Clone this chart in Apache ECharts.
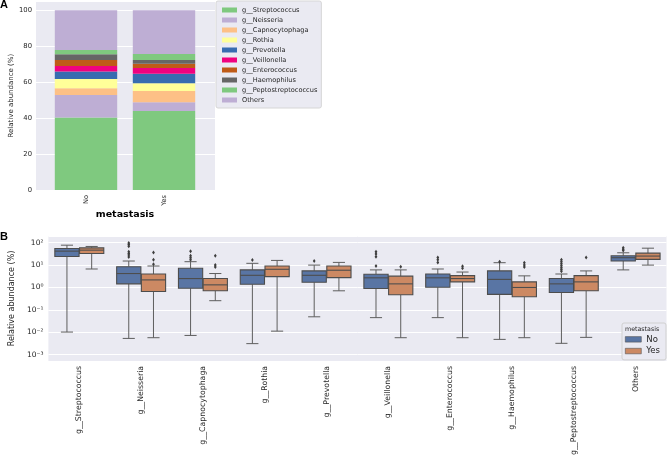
<!DOCTYPE html>
<html><head><meta charset="utf-8">
<script src="https://cdn.jsdelivr.net/npm/echarts@6/dist/echarts.min.js"></script>
<style>html,body{margin:0;padding:0;background:#fff}#c{width:668px;height:458px}</style>
</head><body><div id="c"></div>
<script>
// ---------- data ----------
const genera = ['g__Streptococcus','g__Neisseria','g__Capnocytophaga','g__Rothia','g__Prevotella','g__Veillonella','g__Enterococcus','g__Haemophilus','g__Peptostreptococcus','Others'];
const groups = ['No','Yes'];
// panel A: mean relative abundance (%)
const meanNo  = [40.4, 12.5, 3.7, 5.2, 4.2, 3.0, 3.4, 3.1, 2.4, 22.1];
const meanYes = [44.0,  4.8, 6.3, 4.3, 5.3, 3.2, 2.4, 2.1, 3.3, 24.3];
// panel B: [min, q1, median, q3, max] (%)
const boxNo = [
  [0.0102, 24.4, 42, 55.2, 77.6],
  [0.0053, 1.45, 4.2, 8.5, 15.2],
  [0.0072, 0.93, 2.5, 7.2, 14.2],
  [0.0031, 1.4, 3.5, 6.1, 12],
  [0.049, 1.72, 3.5, 5.5, 10],
  [0.045, 0.9, 2.7, 3.9, 6.1],
  [0.045, 1.03, 2.7, 4.0, 6.7],
  [0.0048, 0.49, 2.3, 5.5, 12.8],
  [0.0032, 0.6, 1.45, 2.5, 4.0],
  [6.1, 15.2, 21.4, 26, 35.5]
];
const boxYes = [
  [6.7, 33, 46.6, 59, 68],
  [0.0057, 0.665, 2.18, 4.0, 9.1],
  [0.257, 0.71, 1.31, 2.5, 4.2],
  [0.0112, 3.07, 6.5, 9.1, 16.2],
  [0.71, 2.77, 5.9, 9.1, 13.2],
  [0.0057, 0.47, 1.45, 3.2, 6.1],
  [0.0057, 1.78, 2.5, 3.4, 4.9],
  [0.0057, 0.386, 1.0, 1.78, 3.3],
  [0.0059, 0.71, 1.78, 3.4, 5.5],
  [10, 18, 25.3, 34.3, 57]
];
const outNo = [
  [], [98, 83, 70, 39, 33, 28, 22.8], [42, 26, 21.4, 17.4], [16.8], [15.2],
  [39, 31, 23.6, 9.1], [22, 17.4, 13.2], [14.2], [17.4, 14.2, 11.6, 9.4, 7.7, 6.3, 5.3], [59, 51.6, 45]
];
const outYes = [
  [], [36.7, 17.4, 11], [26, 10, 8.2], [], [],
  [8.5], [8.8, 7.2], [12.8, 10, 8.2], [22], []
];
const logTickLabels = {'-3':'10⁻³','-2':'10⁻²','-1':'10⁻¹','0':'10⁰','1':'10¹','2':'10²'};

// ---------- styles ----------
const accent = ['#7fc97f','#beaed4','#fdc086','#ffff99','#386cb0','#f0027f','#bf5b17','#666666','#7fc97f','#beaed4'];
const hueColors = ['#5975a4','#cc8963'];
const FONT = 'DejaVu Sans';
const TXT = '#262626';
const LINE = '#4d4d4d';
const WHISK = '#5e5e5e';

const lg = v => Math.log10(v);

const barSeries = genera.map((g, i) => ({
  name: g, type: 'bar', stack: 'a', xAxisIndex: 0, yAxisIndex: 0,
  barWidth: '80%', itemStyle: {color: accent[i]},
  data: [meanNo[i], meanYes[i]]
}));

function boxRender(off) {
  return function (params, api) {
    const cat = api.value(0);
    const band = api.size([1, 0])[0];
    const cx = api.coord([cat, 0])[0] + off * band;
    const w = band * 0.392;
    const y = k => api.coord([cat, api.value(k)])[1];
    const yMin = y(1), yQ1 = y(2), yMed = y(3), yQ3 = y(4), yMax = y(5);
    const ln = (x1, y1, x2, y2, c, lw) => ({type: 'line', shape: {x1, y1, x2, y2}, style: {stroke: c, lineWidth: lw}});
    return {type: 'group', children: [
      ln(cx, yQ1, cx, yMin, WHISK, 1),
      ln(cx, yQ3, cx, yMax, WHISK, 1),
      ln(cx - w / 4, yMin, cx + w / 4, yMin, WHISK, 1),
      ln(cx - w / 4, yMax, cx + w / 4, yMax, WHISK, 1),
      {type: 'rect', shape: {x: cx - w / 2, y: yQ3, width: w, height: yQ1 - yQ3},
       style: {fill: api.visual('color'), stroke: LINE, lineWidth: 1.1}},
      ln(cx - w / 2, yMed, cx + w / 2, yMed, LINE, 1.1)
    ]};
  };
}
function outRender(off) {
  return function (params, api) {
    const cat = api.value(0);
    const band = api.size([1, 0])[0];
    const p = api.coord([cat, api.value(1)]);
    const cx = p[0] + off * band, cy = p[1];
    return {type: 'polygon', shape: {points: [[cx, cy - 2], [cx + 1.4, cy], [cx, cy + 2], [cx - 1.4, cy]]},
      style: {fill: '#3d3d3d'}};
  };
}
const boxData = arr => arr.map((r, i) => [i, lg(r[0]), lg(r[1]), lg(r[2]), lg(r[3]), lg(r[4])]);
const outData = arr => { const o = []; arr.forEach((vals, i) => vals.forEach(v => o.push([i, lg(v)]))); return o; };

const option = {
  animation: false,
  backgroundColor: '#ffffff',
  textStyle: {fontFamily: FONT},
  title: [
    {text: 'A', left: 0, top: -1, padding: 0, textStyle: {fontSize: 11, fontWeight: 'bold', color: '#000', fontFamily: 'Liberation Sans'}},
    {text: 'B', left: 0, top: 231, padding: 0, textStyle: {fontSize: 11, fontWeight: 'bold', color: '#000', fontFamily: 'Liberation Sans'}}
  ],
  legend: [
    {data: genera, orient: 'vertical', left: 216, top: 1, padding: [4, 4, 3, 6],
     backgroundColor: '#eaeaf2', borderColor: '#d6d6d6', borderWidth: 1, borderRadius: 2,
     icon: 'rect', itemWidth: 15, itemHeight: 5, itemGap: 0,
     textStyle: {fontSize: 6.6, lineHeight: 10, color: TXT, fontFamily: FONT}},
    {data: ['No', 'Yes'], orient: 'vertical', left: 622, top: 323, padding: [10.5, 6, 3, 3],
     backgroundColor: '#eaeaf2', borderColor: '#d0d0d0', borderWidth: 1, borderRadius: 2,
     icon: 'rect', itemWidth: 16, itemHeight: 5.5, itemGap: 0,
     itemStyle: {borderColor: '#555', borderWidth: 0.6},
     textStyle: {fontSize: 8.5, lineHeight: 11.7, color: TXT, fontFamily: FONT}}
  ],
  graphic: [
    {type: 'text', left: 625, top: 326, z: 100, style: {text: 'metastasis', fontSize: 6.3, fill: TXT, fontFamily: FONT}}
  ],
  grid: [
    {left: 47, top: 1.3, width: 156, height: 188.7, show: false},
    {left: 38.6, top: 236, right: 1.5, bottom: 96, show: true, backgroundColor: '#eaeaf2', borderWidth: 0},
    {left: 36, top: 1.3, width: 179, height: 188.7, show: true, backgroundColor: '#eaeaf2', borderWidth: 0}
  ],
  xAxis: [
    {gridIndex: 0, type: 'category', data: groups, boundaryGap: true,
     axisLine: {show: false}, axisTick: {show: false}, splitLine: {show: false},
     axisLabel: {rotate: 90, margin: 5, fontSize: 6.6, color: TXT, fontFamily: FONT},
     name: 'metastasis', nameLocation: 'middle', nameGap: 20,
     nameTextStyle: {fontSize: 9.5, fontWeight: 'bold', color: '#000', fontFamily: FONT}},
    {gridIndex: 1, type: 'category', data: genera, boundaryGap: true,
     axisLine: {show: false}, axisTick: {show: false}, splitLine: {show: false},
     axisLabel: {rotate: 90, margin: 5, interval: 0, fontSize: 7.8, color: TXT, fontFamily: FONT}},
    {gridIndex: 2, type: 'value', min: 0, max: 1, show: false}
  ],
  yAxis: [
    {gridIndex: 0, type: 'value', min: 0, max: 105, interval: 20, show: false},
    {gridIndex: 1, type: 'value', min: -3.28, max: 2.30, splitNumber: 5,
     axisLine: {show: false}, axisTick: {show: false},
     splitLine: {lineStyle: {color: '#ffffff', width: 1}},
     axisLabel: {showMinLabel: false, showMaxLabel: false, margin: 5, fontSize: 7.5, color: TXT, fontFamily: FONT,
                 formatter: v => { const e = Math.round(v); return Math.abs(v - e) < 1e-6 ? (logTickLabels[String(e)] || '') : ''; }},
     name: 'Relative abundance (%)', nameLocation: 'middle', nameGap: 29,
     nameTextStyle: {fontSize: 8, color: TXT, fontFamily: FONT}},
    {gridIndex: 2, type: 'value', min: 0, max: 105, interval: 20,
     axisLine: {show: false}, axisTick: {show: false},
     splitLine: {lineStyle: {color: '#ffffff', width: 1}},
     axisLabel: {showMaxLabel: false, fontSize: 6.8, color: TXT, margin: 4, fontFamily: FONT},
     name: 'Relative abundance (%)', nameLocation: 'middle', nameGap: 21,
     nameTextStyle: {fontSize: 7, color: TXT, fontFamily: FONT}}
  ],
  series: [
    ...barSeries,
    {name: 'No', type: 'custom', xAxisIndex: 1, yAxisIndex: 1, renderItem: boxRender(-0.2),
     itemStyle: {color: hueColors[0]}, encode: {x: 0, y: [1, 2, 3, 4, 5]}, data: boxData(boxNo)},
    {name: 'Yes', type: 'custom', xAxisIndex: 1, yAxisIndex: 1, renderItem: boxRender(0.2),
     itemStyle: {color: hueColors[1]}, encode: {x: 0, y: [1, 2, 3, 4, 5]}, data: boxData(boxYes)},
    {name: 'No outliers', type: 'custom', xAxisIndex: 1, yAxisIndex: 1, renderItem: outRender(-0.2),
     encode: {x: 0, y: 1}, data: outData(outNo)},
    {name: 'Yes outliers', type: 'custom', xAxisIndex: 1, yAxisIndex: 1, renderItem: outRender(0.2),
     encode: {x: 0, y: 1}, data: outData(outYes)}
  ]
};
const chart = echarts.init(document.getElementById('c'), null, {renderer: 'canvas'});
chart.setOption(option);
</script>
</body></html>
